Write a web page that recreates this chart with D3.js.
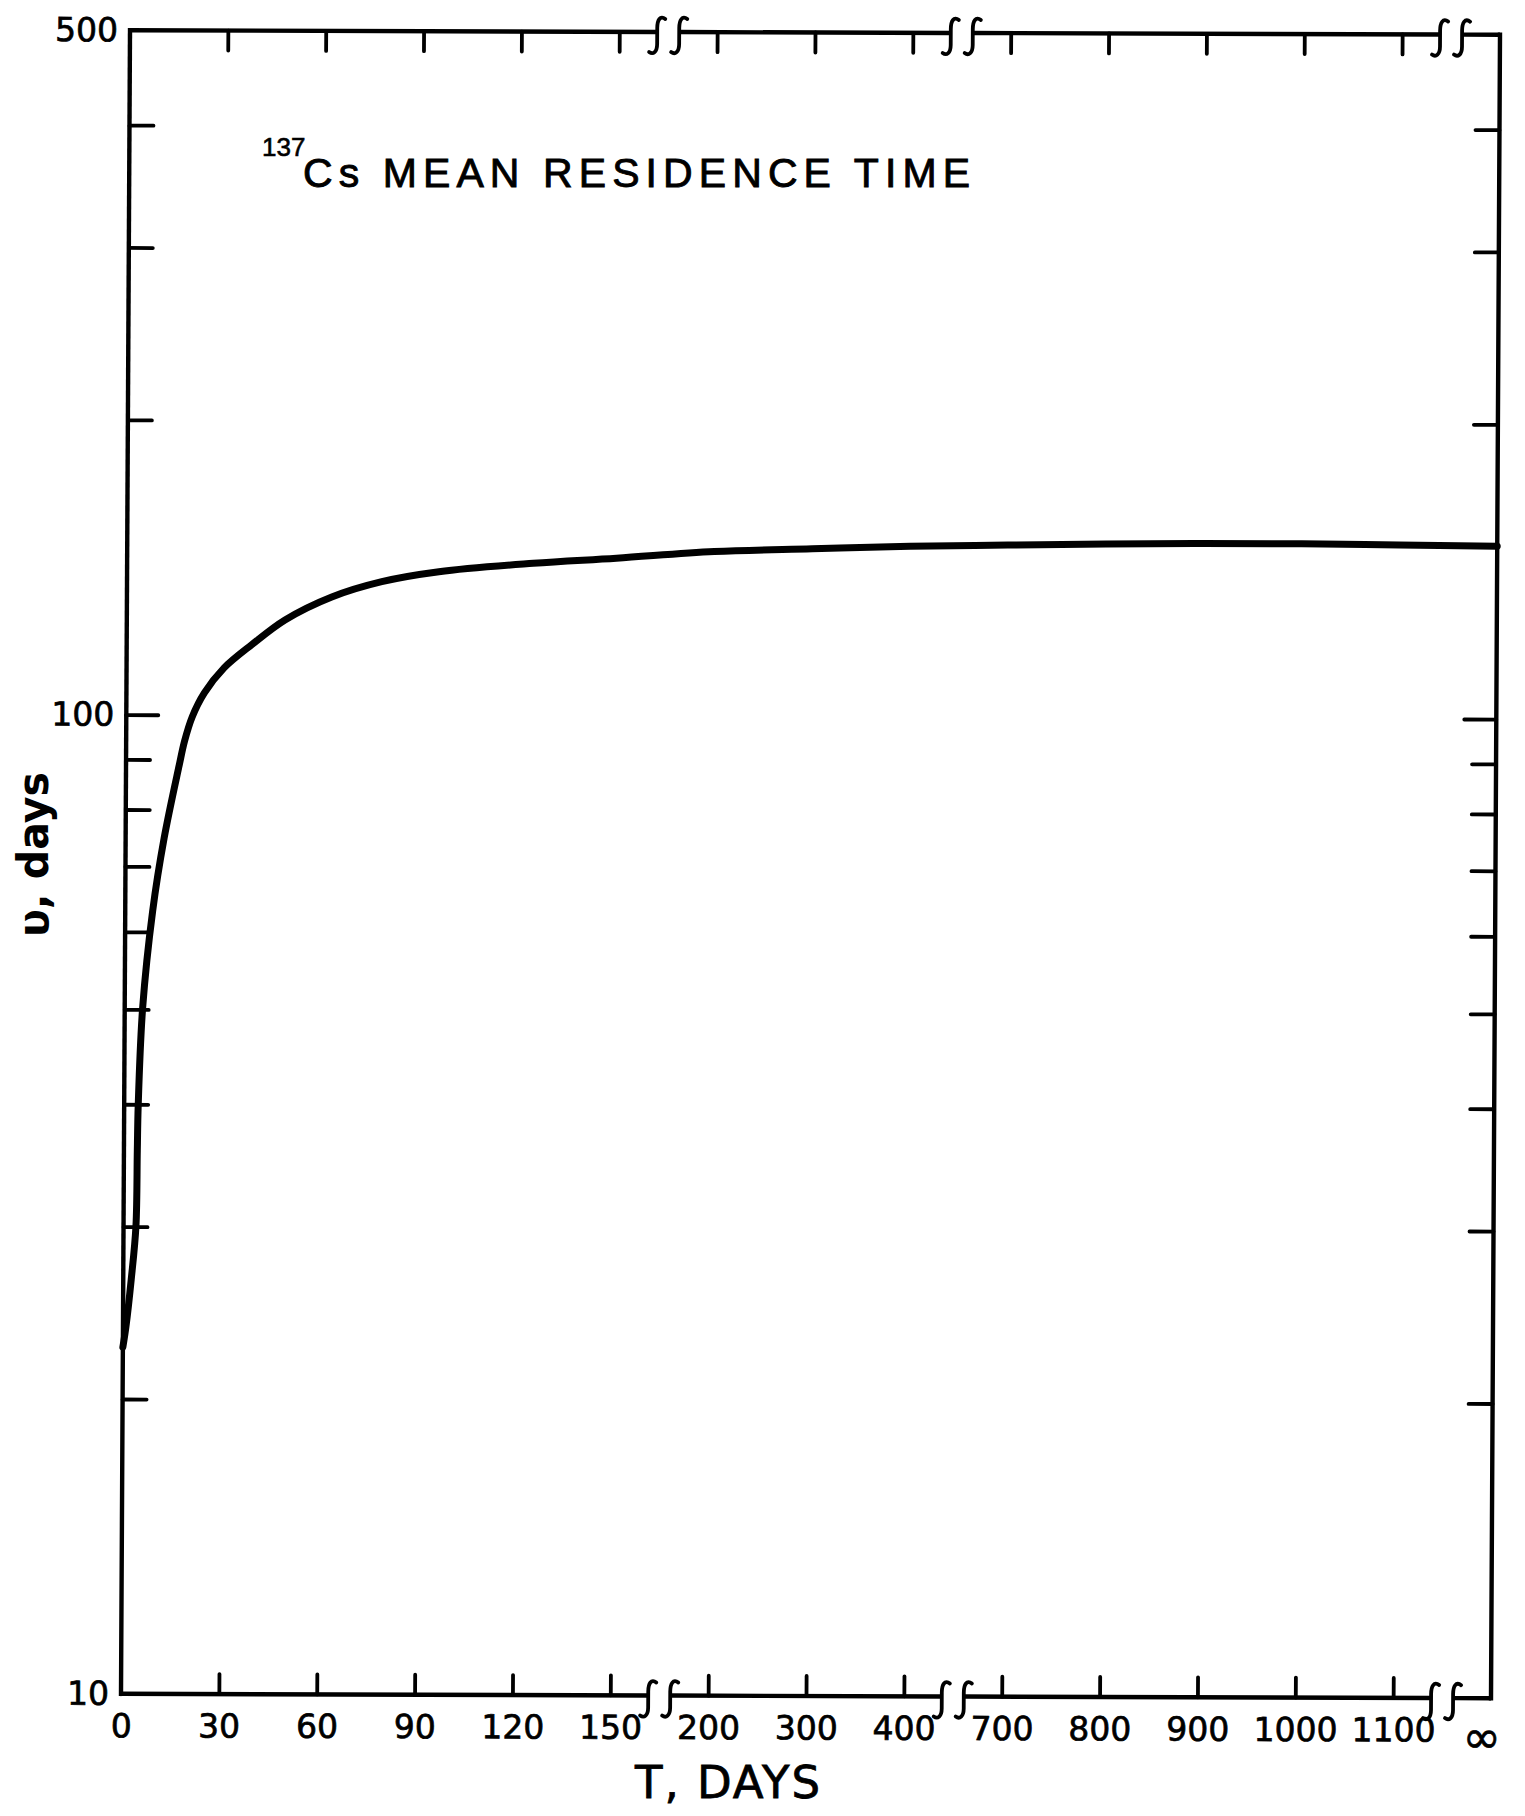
<!DOCTYPE html>
<html><head><meta charset="utf-8">
<script src="https://cdn.jsdelivr.net/npm/d3@7"></script>
<style>body{margin:0;background:#fff} svg{display:block}</style>
</head><body>
<svg id="chart" width="1525" height="1816"></svg>
<script>
// ---- data ----
const timeDays = [0, 0.9, 2.45, 3.8, 4.1, 4.3, 5.5, 8.4, 11.8, 16.3, 17.9, 20.2, 23.9, 29.9, 38.5, 48.5, 62.8, 78.1, 95.6, 124.5, 150, 200, 300, 400, 700, 800, 900, 1000, 1100, Infinity];
const residenceDays = [22.6, 23.7, 26.5, 30.0, 35.9, 39.9, 50.2, 63.0, 74.8, 88.8, 94.0, 99.5, 105.3, 111.7, 118.1, 125.1, 132.1, 137.0, 140.3, 143.2, 145.0, 147.4, 148.5, 149.5, 150.0, 150.5, 150.8, 150.8, 150.5, 150.2];
const xLabelValues = [0, 30, 60, 90, 120, 150, 200, 300, 400, 700, 800, 900, 1000, 1100];
const xTickValues = [30, 60, 90, 120, 150, 200, 300, 400, 700, 800, 900, 1000, 1100];
const infinityLabel = "\u221E";
const yTickValues = [20, 30, 40, 50, 60, 70, 80, 90, 100, 200, 300, 400];
const yMajorTicks = [100];
const yLabelValues = [10, 100, 500];
const yDomain = [10, 500];
const titleIsotope = "137";
const titleText = "Cs MEAN RESIDENCE TIME";
const xTitle = "T, DAYS";
const yTitle = "\u03C5, days";

// ---- layout ----
const W = 1370, H = 1663.5, step = W / 14;
const svg = d3.select("#chart");
const g = svg.append("g").attr("transform", "matrix(1,0.00328,-0.00541,1,130,30.25)");

const x = d3.scaleLinear()
  .domain([0, 150, 200, 400, 700, 1100])
  .range([0, 5, 6, 8, 9, 13].map(k => k * step));
const xPos = t => Number.isFinite(t) ? x(t) : W;
const y = d3.scaleLog().domain(yDomain).range([H, 0]);

const breaks = [(x(150) + x(200)) / 2, (x(400) + x(700)) / 2, (x(1100) + W) / 2];
const gap = 11;
const segs = [];
let s0 = 0;
breaks.forEach(b => { segs.push([s0, b - gap]); s0 = b + gap; });
segs.push([s0, W]);

const frameW = 4.4, tickW = 3.8;

// frame: left & right
g.selectAll("line.vframe").data([0, W]).join("line").attr("class", "vframe")
  .attr("x1", d => d).attr("x2", d => d).attr("y1", 0).attr("y2", H)
  .attr("stroke", "#000").attr("stroke-width", frameW).attr("stroke-linecap", "square");
// top & bottom segments with break marks
[0, H].forEach(yy => {
  g.append("g").selectAll("line").data(segs).join("line")
    .attr("x1", d => d[0]).attr("x2", d => d[1]).attr("y1", yy).attr("y2", yy)
    .attr("stroke", "#000").attr("stroke-width", frameW);
  const sq = "M8,-13 C3,-17 0,-12 0,-4 L0,12 C0,20 -4,23 -8,20";
  breaks.forEach(b => {
    [b - gap, b + gap].forEach(cx => {
      g.append("path").attr("d", sq).attr("transform", `translate(${cx},${yy})`)
        .attr("fill", "none").attr("stroke", "#000").attr("stroke-width", 3.8)
        .attr("stroke-linecap", "round");
    });
  });
});

function styleAxis(sel, fs) {
  sel.select(".domain").remove();
  sel.attr("font-family", "'DejaVu Sans', sans-serif").attr("font-size", fs);
  sel.selectAll(".tick line").attr("stroke", "#000").attr("stroke-width", tickW).attr("stroke-linecap", "round");
  sel.selectAll(".tick text").attr("fill", "#000").attr("stroke", "#000").attr("stroke-width", 0.7);
}

// bottom axis ticks + labels
const gb = g.append("g").attr("transform", `translate(0,${H})`)
  .call(d3.axisBottom(x).tickValues(xLabelValues).tickSize(-20).tickPadding(20).tickFormat(d3.format("d")));
styleAxis(gb, 33);
gb.selectAll(".tick").filter(d => d === 0).select("line").remove();
gb.append("text").attr("x", xPos(Infinity) - 9).attr("y", 22).attr("dy", "0.71em")
  .attr("text-anchor", "middle").attr("fill", "#000").attr("stroke", "#000").attr("stroke-width", 0.7)
  .attr("font-size", 46).text(infinityLabel);

// top axis ticks
const gt = g.append("g").call(d3.axisTop(x).tickValues(xTickValues).tickSize(-20).tickFormat(""));
styleAxis(gt, 33);

// left axis ticks
const gl = g.append("g").call(d3.axisLeft(y).tickValues(yTickValues).tickSize(-24).tickFormat(""));
styleAxis(gl, 33);
gl.selectAll(".tick").filter(d => yMajorTicks.includes(d)).select("line").attr("x2", 32);
// left labels
const gll = g.append("g").call(d3.axisLeft(y).tickValues(yLabelValues).tickSize(0).tickPadding(12).tickFormat(d3.format("d")));
styleAxis(gll, 33);

// right axis ticks
const gr = g.append("g").attr("transform", `translate(${W},0)`)
  .call(d3.axisRight(y).tickValues(yTickValues).tickSize(-24).tickFormat(""));
styleAxis(gr, 33);
gr.selectAll(".tick").filter(d => yMajorTicks.includes(d)).select("line").attr("x2", -32);

// curve
const pts = timeDays.map((t, i) => ({ t, v: residenceDays[i] }));
g.append("path").datum(pts)
  .attr("d", d3.line().x(d => xPos(d.t)).y(d => y(d.v)).curve(d3.curveCatmullRom.alpha(0.5)))
  .attr("fill", "none").attr("stroke", "#000").attr("stroke-width", 7)
  .attr("stroke-linejoin", "round").attr("stroke-linecap", "round");

// titles
svg.append("text").attr("x", 262).attr("y", 156)
  .attr("font-family", "'Liberation Sans', Arial, sans-serif").attr("font-size", 26)
  .attr("fill", "#000").attr("stroke", "#000").attr("stroke-width", 0.6).text(titleIsotope);
svg.append("text").attr("x", 303).attr("y", 187)
  .attr("font-family", "'Liberation Sans', Arial, sans-serif").attr("font-size", 41)
  .attr("textLength", 667).attr("lengthAdjust", "spacing")
  .attr("fill", "#000").attr("stroke", "#000").attr("stroke-width", 0.9).text(titleText);

svg.append("text").attr("x", 635).attr("y", 1798)
  .attr("font-family", "'DejaVu Sans', sans-serif").attr("font-size", 45)
  .attr("textLength", 185).attr("lengthAdjust", "spacing")
  .attr("fill", "#000").attr("stroke", "#000").attr("stroke-width", 0.8).text(xTitle);

svg.append("text").attr("transform", "translate(48,937) rotate(-90)")
  .attr("font-family", "'DejaVu Sans', sans-serif").attr("font-size", 42).attr("font-weight", "bold")
  .attr("textLength", 165).attr("lengthAdjust", "spacingAndGlyphs")
  .attr("fill", "#000").text(yTitle);
</script>
</body></html>
